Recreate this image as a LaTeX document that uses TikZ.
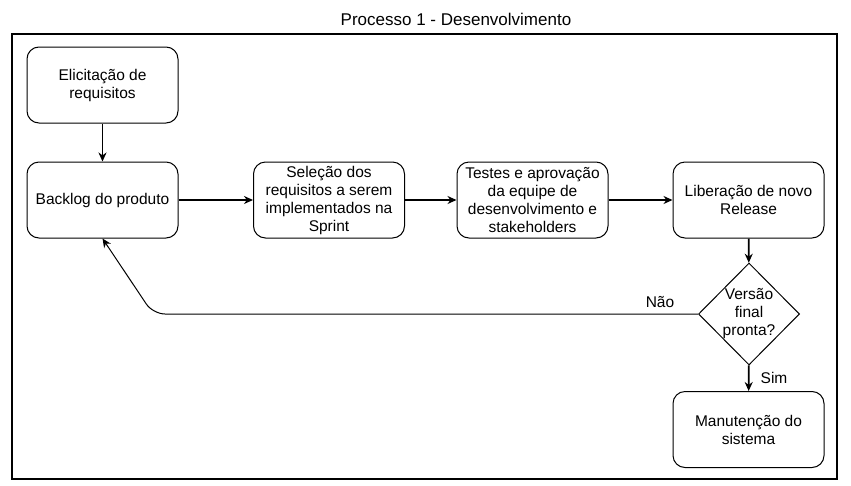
\documentclass[tikz,border=0pt]{standalone}
\usepackage{fontspec}
\setmainfont{Liberation Sans}
\usetikzlibrary{shapes.geometric,arrows.meta}

\tikzset{
  caixa/.style={draw, line width=1pt, rounded corners=12pt, minimum width=151pt,
    minimum height=76pt, inner sep=1pt, align=center, font=\fontsize{15.5}{18}\selectfont},
  losango/.style={draw, line width=1pt, diamond, aspect=1, minimum width=101pt,
    minimum height=102pt, inner sep=-4pt, align=center, font=\fontsize{15.5}{18}\selectfont},
  seta/.style={-{Stealth[length=9pt,width=8pt]}, line width=1.8pt},
  retorno/.style={-{Stealth[length=9pt,width=8pt]}, line width=1pt, rounded corners=12pt},
  rotulo/.style={font=\fontsize{15.5}{18}\selectfont}
}

\begin{document}
\begin{tikzpicture}[x=1pt, y=-1pt]
                \useasboundingbox (0, 0) rectangle (851, 485);
                \node[font=\fontsize{17}{20}\selectfont] (titulo) at (456, 19) {Processo 1 - Desenvolvimento};
                \draw[line width=2.5pt] (12, 34) rectangle (837, 479);
                \node[caixa] (elicitacao) at (102.5, 85) {Elicitação de\\requisitos};
                \node[caixa] (backlog) at (102.5, 200) {Backlog do produto};
                \node[caixa] (selecao) at (329, 200) {Seleção dos\\requisitos a serem\\implementados na\\Sprint};
                \node[caixa] (testes) at (532.5, 200) {Testes e aprovação\\da equipe de\\desenvolvimento e\\stakeholders};
                \node[caixa] (liberacao) at (748.5, 200) {Liberação de novo\\Release};
                \node[losango] (versao) at (749, 314) {Versão\\final\\pronta?};
                \node[caixa] (manutencao) at (748.5, 429.5) {Manutenção do\\sistema};
                \draw[seta] (elicitacao) -- (backlog);
                \draw[seta] (backlog) -- (selecao);
                \draw[seta] (selecao) -- (testes);
                \draw[seta] (testes) -- (liberacao);
                \draw[seta] (liberacao) -- (versao);
                \draw[seta] (versao) -- (manutencao);
                \draw[retorno] (versao.west) -- (153, 314) -- (backlog.south);
                \node[rotulo] (nao) at (660, 302) {Não};
                \node[rotulo] (sim) at (774, 378) {Sim};
            \end{tikzpicture}
\end{document}
